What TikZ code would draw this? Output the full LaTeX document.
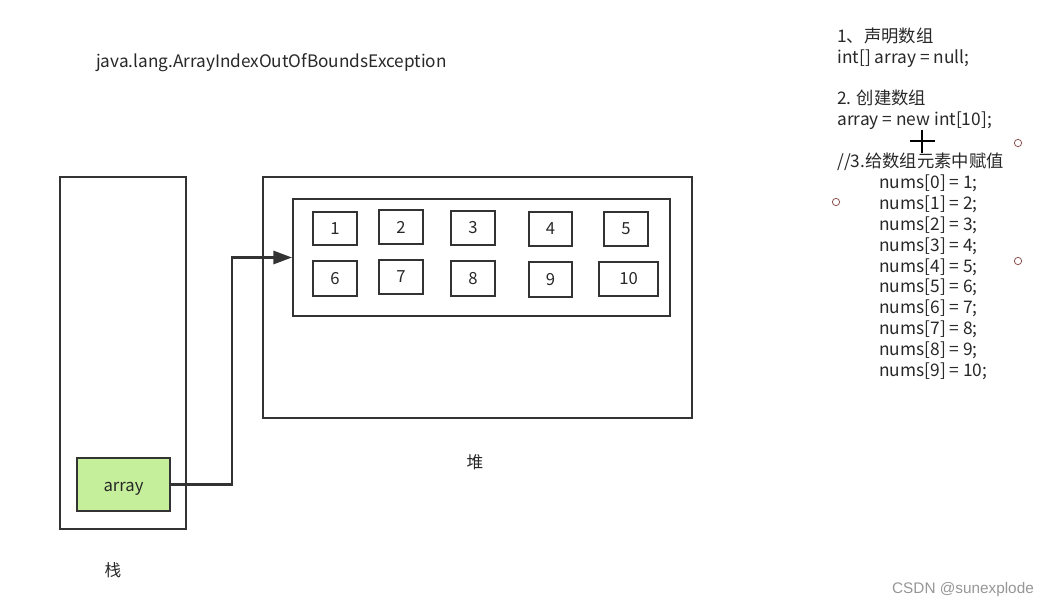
\documentclass[tikz,border=0pt]{standalone}
\usepackage{fontspec}
\setmainfont{Noto Sans CJK SC}
\newfontfamily\wmfont{Liberation Sans}
\usetikzlibrary{arrows.meta}
\definecolor{linec}{RGB}{51,51,51}
\definecolor{textc}{RGB}{40,40,40}
\definecolor{greenf}{RGB}{198,239,155}
\definecolor{circc}{RGB}{140,80,80}
\definecolor{wmc}{RGB}{150,150,150}
\begin{document}
\begin{tikzpicture}[x=0.75pt,y=-0.75pt,
  box/.style={draw=linec,line width=1.6pt,inner sep=0pt},
  cell/.style={draw=linec,line width=1.7pt,inner sep=0pt,text=textc,font=\fontsize{12.5}{14}\selectfont},
  conn/.style={draw=linec,line width=1.6pt,-{Triangle[length=14pt,width=10pt]}},
  lbl/.style={text=textc,inner sep=0pt,font=\fontsize{12.5}{14}\selectfont},
  code/.style={text=textc,inner sep=0pt,anchor=west,text height=9.5pt,text depth=3pt,font=\fontsize{13}{15}\selectfont},
  dot/.style={draw=circc,line width=0.6pt,circle,minimum size=5.5pt,inner sep=0pt}]
\useasboundingbox (0,0) rectangle (1049,606);
% title
\node[lbl,font=\fontsize{12.9}{15}\selectfont] (title) at (271.5,62.5) {java.lang.ArrayIndexOutOfBoundsException};
% stack
\node[box,minimum width=94.5pt,minimum height=264pt] (stack) at (123,353) {};
\node[box,fill=greenf,minimum width=69.75pt,minimum height=39.75pt,text=textc,text height=11pt,text depth=0pt,font=\fontsize{12.5}{14}\selectfont] (arr) at (123.5,484.5) {array};
\node[lbl] (stacklbl) at (113,570) {栈};
% heap
\node[box,minimum width=321.75pt,minimum height=180.75pt] (heap) at (477.5,297.5) {};
\node[box,minimum width=282.75pt,minimum height=87.75pt] (inner) at (481.5,257.5) {};
\node[lbl] (heaplbl) at (475,462) {堆};
% cells
\node[cell,minimum width=33pt,minimum height=24.75pt] (c1) at (335,228.5) {1};
\node[cell,minimum width=33pt,minimum height=25.5pt] (c2) at (401,227) {2};
\node[cell,minimum width=33pt,minimum height=25.5pt] (c3) at (473,228) {3};
\node[cell,minimum width=32.25pt,minimum height=25.5pt] (c4) at (550.5,229) {4};
\node[cell,minimum width=33pt,minimum height=25.5pt] (c5) at (626,229) {5};
\node[cell,minimum width=33pt,minimum height=26.25pt] (c6) at (335,278.5) {6};
\node[cell,minimum width=33pt,minimum height=25.5pt] (c7) at (401,277) {7};
\node[cell,minimum width=33pt,minimum height=26.25pt] (c8) at (473,278.5) {8};
\node[cell,minimum width=32.25pt,minimum height=26.25pt] (c9) at (550.5,279.5) {9};
\node[cell,minimum width=44.25pt,minimum height=25.5pt] (c10) at (628.5,279) {10};
% connector
\coordinate (bend) at (232,400);
\draw[conn] (arr.east) -- (arr.east -| bend) |- (inner.west);
% code text
\node[code] (t1) at (837,38.5) {1、声明数组};
\node[code] (t2) at (837,59) {int[] array = null;};
\node[code] (t3) at (837,100.5) {2. 创建数组};
\node[code] (t4) at (837,121.5) {array = new int[10];};
\node[code] (t5) at (837,163.5) {//3.给数组元素中赋值};
\foreach \k [evaluate=\k as \yy using 184.5+20.8*\k, evaluate=\k as \vv using int(\k+1)] in {0,...,9}
  \node[code] (n\k) at (879,\yy) {nums[\k] = \vv;};
% small circles
\node[dot] (d1) at (1018,143) {};
\node[dot] (d2) at (836,202) {};
\node[dot] (d3) at (1018,261) {};
% cursor
\coordinate (cu1) at (910,141);
\coordinate (cu2) at (935,141);
\coordinate (cu3) at (922,130);
\coordinate (cu4) at (922,153);
\draw[line width=1.5pt,black] (cu1) -- (cu2) (cu3) -- (cu4);
% watermark
\node[text=wmc,inner sep=0pt,font=\wmfont\fontsize{11.5}{13}\selectfont] (wm) at (963,590) {CSDN @sunexplode};
\end{tikzpicture}
\end{document}
